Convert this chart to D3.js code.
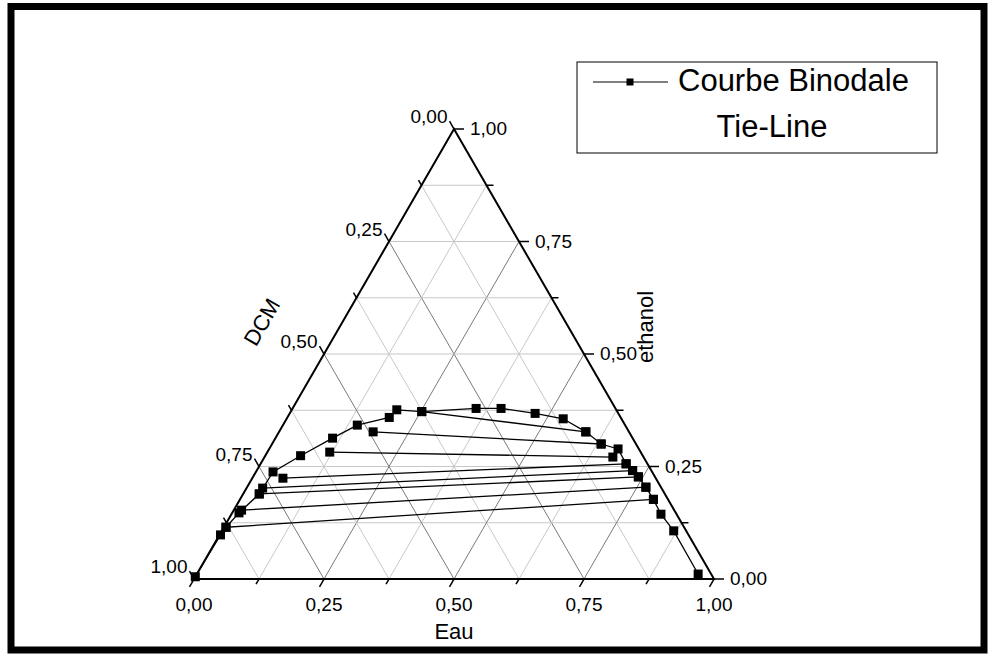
<!DOCTYPE html>
<html>
<head>
<meta charset="utf-8">
<script src="https://cdn.jsdelivr.net/npm/d3@7/dist/d3.min.js"></script>
<style>
  html, body { margin: 0; padding: 0; background: #fff; }
  svg { display: block; font-family: Arial, 'Liberation Sans', sans-serif; }
</style>
</head>
<body>
<svg id="chart" width="989" height="656"></svg>
<script>
// binodal curve (fractions: eau, ethanol ; dcm = 1 - eau - ethanol)
const binodalEau = [0.000, 0.002, 0.004, 0.013, 0.031, 0.033, 0.068, 0.110, 0.143, 0.196, 0.202, 0.252,
  0.353, 0.401, 0.472, 0.532, 0.590, 0.633, 0.671, 0.703, 0.723, 0.741, 0.767, 0.795, 0.826, 0.869, 0.964];
const binodalEth = [0.005, 0.098, 0.115, 0.147, 0.189, 0.238, 0.274, 0.313, 0.342, 0.359, 0.376, 0.372,
  0.379, 0.379, 0.368, 0.356, 0.327, 0.300, 0.289, 0.256, 0.241, 0.227, 0.204, 0.177, 0.144, 0.107, 0.011];

// tie-lines : organic side (left) -> aqueous side (right)
const tieEauL = [0.252, 0.181, 0.120, 0.059, 0.031, 0.031, 0.015, 0.004];
const tieEthL = [0.372, 0.327, 0.282, 0.224, 0.202, 0.189, 0.153, 0.115];
const tieEauR = [0.590, 0.633, 0.670, 0.703, 0.723, 0.741, 0.767, 0.795];
const tieEthR = [0.327, 0.300, 0.271, 0.256, 0.241, 0.227, 0.204, 0.177];

const ticks = [0, 0.125, 0.25, 0.375, 0.5, 0.625, 0.75, 0.875, 1];
const tickLabels = ['0,00', '0,25', '0,50', '0,75', '1,00'];
const legendLabels = ['Courbe Binodale', 'Tie-Line'];

const svg = d3.select('#chart');

// triangle: left = DCM, right = Eau, top = ethanol
const x = d3.scaleLinear().domain([0, 1]).range([194, 714]);
const y = d3.scaleLinear().domain([0, 1]).range([579, 129]);
const proj = (eau, eth) => [x(eau + eth / 2), y(eth)];

const fs = 19;      // tick labels
const fsTitle = 22; // axis titles

// frame
svg.append('rect').attr('x', 11).attr('y', 6.5).attr('width', 973).attr('height', 643.5)
  .attr('fill', '#fff').attr('stroke', '#000').attr('stroke-width', 7);

const g = svg.append('g');

// grid
const isMajor = t => Math.abs(t * 4 - Math.round(t * 4)) < 1e-6;
const inner = ticks.slice(1, -1);
const grid = g.append('g');
inner.forEach(t => {
  // ethanol = t (horizontal)
  grid.append('line').attr('x1', proj(0, t)[0]).attr('y1', proj(0, t)[1])
    .attr('x2', proj(1 - t, t)[0]).attr('y2', proj(1 - t, t)[1])
    .attr('stroke', '#c8c8c8').attr('stroke-width', 1);
  // eau = t
  grid.append('line').attr('x1', proj(t, 0)[0]).attr('y1', proj(t, 0)[1])
    .attr('x2', proj(t, 1 - t)[0]).attr('y2', proj(t, 1 - t)[1])
    .attr('stroke', isMajor(t) ? '#7a7a7a' : '#c8c8c8').attr('stroke-width', 1);
  // dcm = t
  grid.append('line').attr('x1', proj(1 - t, 0)[0]).attr('y1', proj(1 - t, 0)[1])
    .attr('x2', proj(0, 1 - t)[0]).attr('y2', proj(0, 1 - t)[1])
    .attr('stroke', isMajor(t) ? '#7a7a7a' : '#c8c8c8').attr('stroke-width', 1);
});

// triangle edges
const tri = [proj(0, 0), proj(1, 0), proj(0, 1)];
g.append('path').attr('d', d3.line()(tri) + 'Z')
  .attr('fill', 'none').attr('stroke', '#000').attr('stroke-width', 2);

// ticks + labels
const axes = g.append('g').attr('font-size', fs).attr('fill', '#000');
const c60 = 0.5, s60 = Math.sqrt(3) / 2;
ticks.forEach((t, i) => {
  const len = isMajor(t) ? 9 : 6;
  const lab = i % 2 === 0 ? tickLabels[i / 2] : null;
  // bottom (Eau)
  let p = proj(t, 0);
  axes.append('line').attr('x1', p[0]).attr('y1', p[1]).attr('x2', p[0] - c60 * len).attr('y2', p[1] + s60 * len)
    .attr('stroke', '#000').attr('stroke-width', 1.5);
  if (lab) axes.append('text').attr('x', p[0]).attr('y', p[1] + 32).attr('text-anchor', 'middle').text(lab);
  // left (DCM), 0 at top
  p = proj(0, 1 - t);
  axes.append('line').attr('x1', p[0]).attr('y1', p[1]).attr('x2', p[0] - c60 * len).attr('y2', p[1] - s60 * len)
    .attr('stroke', '#000').attr('stroke-width', 1.5);
  if (lab) axes.append('text').attr('x', p[0] - c60 * len - 2).attr('y', p[1] - s60 * len + 2)
    .attr('text-anchor', 'end').text(lab);
  // right (ethanol), 0 at bottom
  p = proj(1 - t, t);
  axes.append('line').attr('x1', p[0]).attr('y1', p[1]).attr('x2', p[0] + len + 1).attr('y2', p[1])
    .attr('stroke', '#000').attr('stroke-width', 1.5);
  if (lab) axes.append('text').attr('x', p[0] + len + 7).attr('y', p[1] + 6).text(lab);
});

// axis titles
axes.append('text').attr('x', x(0.5)).attr('y', 639).attr('font-size', fsTitle)
  .attr('text-anchor', 'middle').text('Eau');
axes.append('text').attr('transform', 'translate(262,322) rotate(-60)').attr('font-size', fsTitle)
  .attr('text-anchor', 'middle').attr('dominant-baseline', 'central').text('DCM');
axes.append('text').attr('transform', 'translate(645,327) rotate(-90)').attr('font-size', fsTitle)
  .attr('text-anchor', 'middle').attr('dominant-baseline', 'central').text('ethanol');

// tie-lines
const ties = tieEauL.map((e, i) => ({ a: proj(e, tieEthL[i]), b: proj(tieEauR[i], tieEthR[i]) }));
g.append('g').selectAll('line').data(ties).join('line')
  .attr('x1', d => d.a[0]).attr('y1', d => d.a[1]).attr('x2', d => d.b[0]).attr('y2', d => d.b[1])
  .attr('stroke', '#000').attr('stroke-width', 1.3);

// binodal curve
const binodal = binodalEau.map((e, i) => proj(e, binodalEth[i]));
g.append('path').attr('d', d3.line()(binodal))
  .attr('fill', 'none').attr('stroke', '#000').attr('stroke-width', 1.3);

// markers
const sq = 9;
const pts = binodal.concat(ties.map(d => d.a), ties.map(d => d.b));
g.append('g').selectAll('rect').data(pts).join('rect')
  .attr('x', d => d[0] - sq / 2).attr('y', d => d[1] - sq / 2)
  .attr('width', sq).attr('height', sq).attr('fill', '#000');

// legend
const leg = svg.append('g');
leg.append('rect').attr('x', 577).attr('y', 62).attr('width', 360).attr('height', 91)
  .attr('fill', '#fff').attr('stroke', '#000').attr('stroke-width', 1);
leg.append('line').attr('x1', 593).attr('y1', 82).attr('x2', 668).attr('y2', 82)
  .attr('stroke', '#000').attr('stroke-width', 1);
leg.append('rect').attr('x', 630 - 3.5).attr('y', 82 - 3.5).attr('width', 7).attr('height', 7).attr('fill', '#000');
leg.append('text').attr('x', 678).attr('y', 91).attr('font-size', 31).text(legendLabels[0]);
leg.append('text').attr('x', 772).attr('y', 137).attr('font-size', 31).attr('text-anchor', 'middle').text(legendLabels[1]);
</script>
</body>
</html>
